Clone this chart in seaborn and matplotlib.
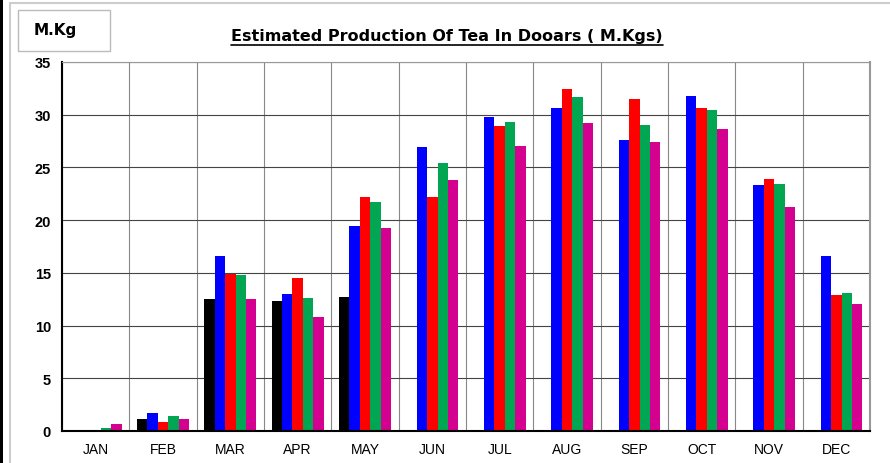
import matplotlib.pyplot as plt
import matplotlib.patches as mpatches
import numpy as np
import pandas as pd
import seaborn as sns

months = ["JAN", "FEB", "MAR", "APR", "MAY", "JUN", "JUL", "AUG", "SEP", "OCT", "NOV", "DEC"]
series_names = ["S1", "S2", "S3", "S4", "S5"]
s1 = [0.1, 1.1, 12.5, 12.3, 12.7, 0, 0, 0, 0, 0, 0, 0]
s2 = [0.0, 1.7, 16.6, 13.0, 19.4, 26.9, 29.8, 30.6, 27.6, 31.8, 23.3, 16.6]
s3 = [0.0, 0.85, 14.9, 14.5, 22.2, 22.2, 28.9, 32.4, 31.5, 30.6, 23.9, 12.9]
s4 = [0.25, 1.4, 14.8, 12.6, 21.7, 25.4, 29.3, 31.7, 29.0, 30.4, 23.4, 13.1]
s5 = [0.7, 1.15, 12.5, 10.8, 19.3, 23.8, 27.0, 29.2, 27.45, 28.6, 21.2, 12.0]
colors = ["#000000", "#0000FF", "#FF0000", "#00A651", "#D4008F"]

rows = []
for name, vals in zip(series_names, [s1, s2, s3, s4, s5]):
    for m, v in zip(months, vals):
        rows.append({"month": m, "series": name, "value": v})
df = pd.DataFrame(rows)

sns.set_style("white")
plt.rcParams["font.family"] = ["Liberation Sans", "DejaVu Sans"]
plt.rcParams["text.color"] = "black"
plt.rcParams["xtick.color"] = "black"
plt.rcParams["ytick.color"] = "black"
plt.rcParams["xtick.labelcolor"] = "black"
plt.rcParams["ytick.labelcolor"] = "black"

fig = plt.figure(figsize=(8.9, 4.64), dpi=100)
ax = fig.add_axes([62 / 890, 1 - 432 / 464, (870 - 62) / 890, (432 - 63) / 464])

sns.barplot(data=df, x="month", y="value", hue="series", order=months,
            hue_order=series_names, palette=colors, width=0.77, gap=0,
            legend=False, ax=ax, saturation=1, linewidth=0)

ax.set_xlim(-0.5, 11.5)
ax.set_ylim(0, 35)
ax.set_yticks(np.arange(0, 36, 5))
ax.set_yticklabels([str(v) for v in range(0, 36, 5)], fontweight="bold", fontsize=10.5)
ax.set_xticks(range(12))
ax.set_xticklabels(months, fontsize=10)
ax.set_xticks(np.arange(-0.5, 12, 1), minor=True)
ax.tick_params(axis="x", which="major", length=0, pad=8)
ax.tick_params(axis="x", which="minor", length=5, color="#555555", direction="out")
ax.tick_params(axis="y", which="major", length=4, color="black", direction="out", pad=4)
ax.grid(axis="y", which="major", color="#444444", linewidth=0.8)
ax.grid(axis="x", which="minor", color="#888888", linewidth=0.8)
ax.set_axisbelow(True)
ax.set_xlabel("")
ax.set_ylabel("")
ax.spines["left"].set_color("black")
ax.spines["left"].set_linewidth(1.5)
ax.spines["bottom"].set_color("black")
ax.spines["bottom"].set_linewidth(1.5)
ax.spines["top"].set_color("#999999")
ax.spines["right"].set_color("#999999")
ax.spines["right"].set_linewidth(1.5)

title = fig.text(447 / 890, 1 - 37 / 464, "Estimated Production Of Tea In Dooars ( M.Kgs)",
                 ha="center", va="center", fontsize=11.5, fontweight="bold",
                 family=["DejaVu Sans"], color="black")
fig.canvas.draw()
bb = title.get_window_extent()
fig.add_artist(plt.Line2D([bb.x0 / 890, bb.x1 / 890], [(bb.y0 - 1) / 464, (bb.y0 - 1) / 464],
                          color="black", linewidth=1.2, transform=fig.transFigure))

fig.add_artist(mpatches.Rectangle((18 / 890, 1 - 52 / 464), 92 / 890, 41 / 464,
                                  transform=fig.transFigure, facecolor="white",
                                  edgecolor="#BBBBBB", linewidth=1))
fig.text(34 / 890, 1 - 31 / 464, "M.Kg", ha="left", va="center", fontsize=11,
         fontweight="bold", family=["DejaVu Sans"], color="black")

fig.add_artist(plt.Line2D([10 / 890, 1], [1 - 4 / 464, 1 - 4 / 464], color="#CCCCCC",
                          linewidth=1.5, transform=fig.transFigure))
fig.add_artist(plt.Line2D([10 / 890, 10 / 890], [0, 1 - 4 / 464], color="#CCCCCC",
                          linewidth=1.5, transform=fig.transFigure))
fig.add_artist(mpatches.Rectangle((0, 0), 3 / 890, 1, transform=fig.transFigure,
                                  facecolor="black", edgecolor="none"))

fig.savefig("out.png", dpi=100)
